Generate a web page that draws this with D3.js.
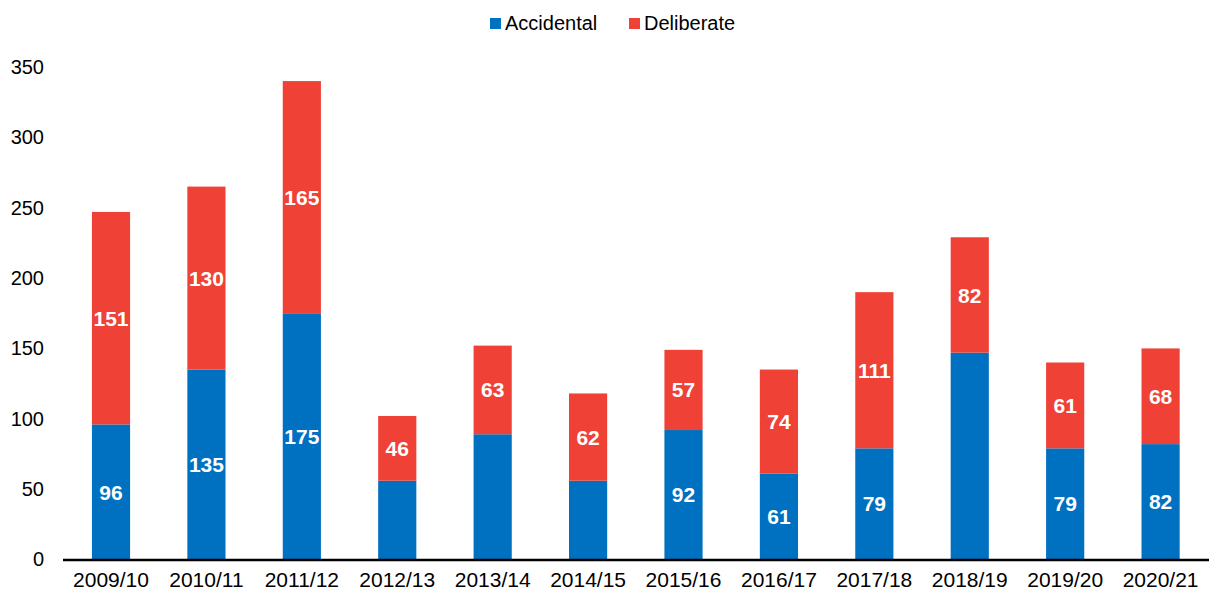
<!DOCTYPE html>
<html>
<head>
<meta charset="utf-8">
<script src="https://cdn.jsdelivr.net/npm/d3@7"></script>
<style>
  html, body { margin: 0; padding: 0; background: #fff; }
  svg { display: block; font-family: "Liberation Sans", Arial, sans-serif; }
</style>
</head>
<body>
<div id="chart"></div>
<script>
// data
var years = ["2009/10","2010/11","2011/12","2012/13","2013/14","2014/15","2015/16","2016/17","2017/18","2018/19","2019/20","2020/21"];
var accidental = [96, 135, 175, 56, 89, 56, 92, 61, 79, 147, 79, 82];
var deliberate = [151, 130, 165, 46, 63, 62, 57, 74, 111, 82, 61, 68];
// labels as printed on the chart (null = no label shown)
var accidentalLabels = [96, 135, 175, null, null, null, 92, 61, 79, null, 79, 82];
var deliberateLabels = [151, 130, 165, 46, 63, 62, 57, 74, 111, 82, 61, 68];
var yTicks = [0, 50, 100, 150, 200, 250, 300, 350];
var seriesNames = ["Accidental", "Deliberate"];
var colors = ["#0070C0", "#EF4136"];

var W = 1209, H = 594;
var svg = d3.select("#chart").append("svg").attr("width", W).attr("height", H);

var x = d3.scaleBand().domain(years).range([63.3, 1208.3]).paddingInner(0.6).paddingOuter(0.3);
var y = d3.scaleLinear().domain([0, 350]).range([559.5, 67]);

var rows = years.map(function(yr, i){
    return {year: yr, Accidental: accidental[i], Deliberate: deliberate[i], i: i};
});
var stack = d3.stack().keys(seriesNames)(rows);
var labelSets = [accidentalLabels, deliberateLabels];

// bars
var layers = svg.selectAll("g.layer").data(stack).enter().append("g")
    .attr("class", "layer")
    .attr("fill", function(d, k){ return colors[k]; });

layers.selectAll("rect").data(function(d){ return d; }).enter().append("rect")
    .attr("x", function(d){ return x(d.data.year); })
    .attr("width", x.bandwidth())
    .attr("y", function(d){ return y(d[1]); })
    .attr("height", function(d){ return y(d[0]) - y(d[1]); });

// value labels
layers.each(function(layer, k){
    d3.select(this).selectAll("text").data(layer.filter(function(d){ return labelSets[k][d.data.i] != null; }))
        .enter().append("text")
        .attr("x", function(d){ return x(d.data.year) + x.bandwidth() / 2; })
        .attr("y", function(d){ return (y(d[0]) + y(d[1])) / 2; })
        .attr("dy", "0.36em")
        .attr("text-anchor", "middle")
        .attr("fill", "#fff")
        .attr("font-weight", "bold")
        .attr("font-size", "21px")
        .text(function(d){ return labelSets[k][d.data.i]; });
});

// y axis (labels only)
var yAxis = svg.append("g").attr("transform", "translate(44,0)")
    .call(d3.axisLeft(y).tickValues(yTicks).tickSize(0).tickPadding(0));
yAxis.select(".domain").remove();
yAxis.selectAll("text").attr("font-size", "20px").attr("fill", "#000")
    .attr("font-family", "Liberation Sans, Arial, sans-serif");

// x axis
var xAxis = svg.append("g").attr("transform", "translate(0,560)")
    .call(d3.axisBottom(x).tickSize(0).tickPadding(12));
xAxis.select(".domain").remove();
xAxis.selectAll("text").attr("font-size", "21px").attr("fill", "#000")
    .attr("font-family", "Liberation Sans, Arial, sans-serif");
svg.append("line")
    .attr("x1", 63).attr("x2", W)
    .attr("y1", 560).attr("y2", 560)
    .attr("stroke", "#000").attr("stroke-width", 2.5);

// legend
var legendX = [490, 629];
var legend = svg.append("g");
seriesNames.forEach(function(name, k){
    legend.append("rect")
        .attr("x", legendX[k]).attr("y", 18)
        .attr("width", 11).attr("height", 11)
        .attr("fill", colors[k]);
    legend.append("text")
        .attr("x", legendX[k] + 15).attr("y", 30)
        .attr("font-size", "20px").attr("fill", "#000")
        .text(name);
});
</script>
</body>
</html>
